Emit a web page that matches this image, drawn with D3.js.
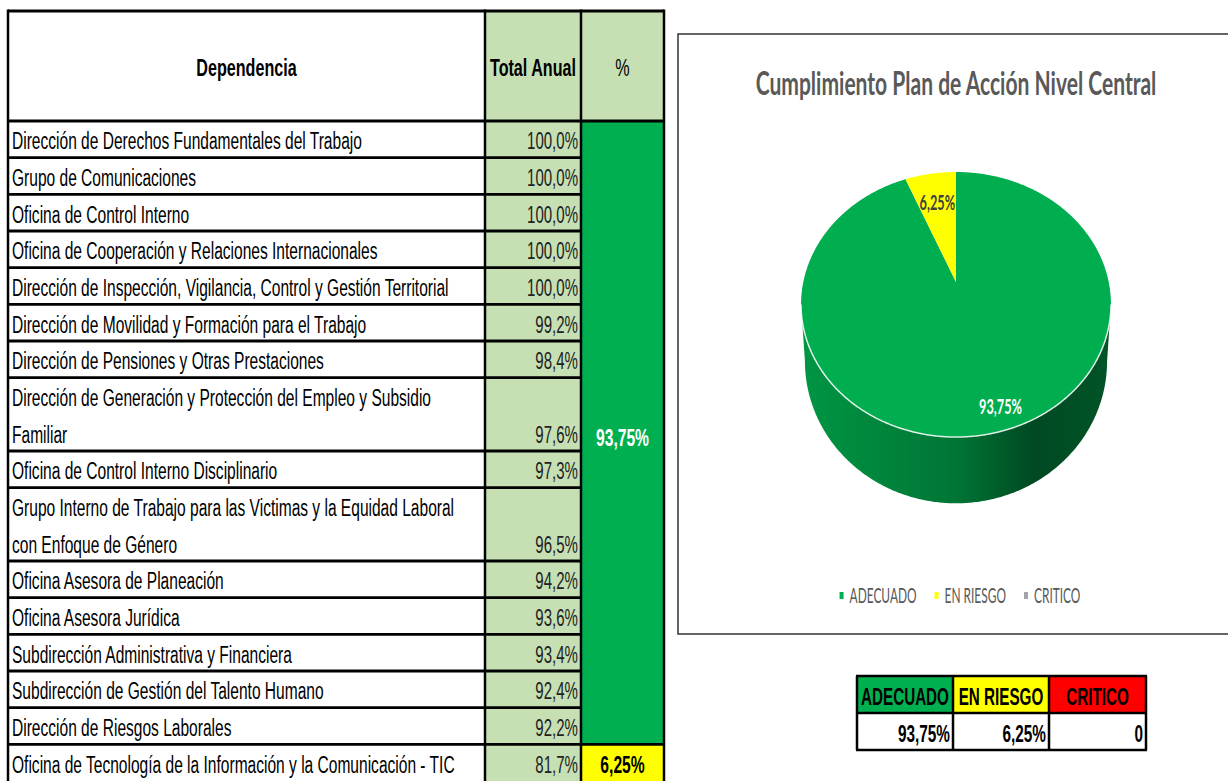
<!DOCTYPE html>
<html>
<head>
<meta charset="utf-8">
<title>Cumplimiento Plan de Acción Nivel Central</title>
<script src="https://d3js.org/d3.v7.min.js"></script>
<style>
  body { margin: 0; background: #fff; }
  svg { display: block; }
  .tabla { font-family: 'Liberation Sans', Arial, sans-serif; }
  .grafico { font-family: Lato, 'Liberation Sans', sans-serif; }
</style>
</head>
<body>
<svg id="chart"></svg>
<script>
// ---- datos ----
var dependencias = [
  "Dirección de Derechos Fundamentales del Trabajo",
  "Grupo de Comunicaciones",
  "Oficina de Control Interno",
  "Oficina de Cooperación y Relaciones Internacionales",
  "Dirección de Inspección, Vigilancia, Control y Gestión Territorial",
  "Dirección de Movilidad y Formación para el Trabajo",
  "Dirección de Pensiones y Otras Prestaciones",
  "Dirección de Generación y Protección del Empleo y Subsidio\nFamiliar",
  "Oficina de Control Interno Disciplinario",
  "Grupo Interno de Trabajo para las Victimas y la Equidad Laboral\ncon Enfoque de Género",
  "Oficina Asesora de Planeación",
  "Oficina Asesora Jurídica",
  "Subdirección Administrativa y Financiera",
  "Subdirección de Gestión del Talento Humano",
  "Dirección de Riesgos Laborales",
  "Oficina de Tecnología de la Información y la Comunicación - TIC"
];
var totalAnual = [100.0, 100.0, 100.0, 100.0, 100.0, 99.2, 98.4, 97.6, 97.3, 96.5, 94.2, 93.6, 93.4, 92.4, 92.2, 81.7];
var encabezados = ["Dependencia", "Total Anual", "%"];

var categorias = ["ADECUADO", "EN RIESGO", "CRITICO"];
var porcentajes = [93.75, 6.25, 0];
var filasPorEstado = [15, 1, 0];

var titulo = "Cumplimiento Plan de Acción Nivel Central";

// colores
var coloresTabla = ["#00B050", "#FFFF00", "#FF0000"];
var coloresPie = ["#00AD4F", "#FFFF00", "#A5A5A5"];
var verdeClaro = "#C6E0B4";

var es = d3.formatLocale({decimal: ",", thousands: ".", grouping: [3], currency: ["$", ""]});
var f1 = es.format(".1f"), f2 = es.format(".2f");
function pct1(v) { return f1(v) + "%"; }
function pct2(v) { return v === 0 ? "0" : f2(v) + "%"; }

var W = 1228, H = 782;
var svg = d3.select("#chart").attr("width", W).attr("height", H);

// comprime horizontalmente un grupo de textos (fuente estrecha)
function comprimir(sel, refTexto, ancho) {
  var n = sel.node();
  if (!n) return 1;
  var tmp = d3.select(n.parentNode).append("text")
    .attr("class", n.getAttribute("class"))
    .attr("font-size", n.getAttribute("font-size"))
    .attr("font-weight", n.getAttribute("font-weight"))
    .text(refTexto);
  var k = ancho / tmp.node().getComputedTextLength();
  tmp.remove();
  sel.each(function() {
    var x = +this.getAttribute("x");
    d3.select(this).attr("transform", "translate(" + x + ",0) scale(" + k + ",1) translate(" + (-x) + ",0)");
  });
  return k;
}

// ---- tabla principal ----
var lineas = dependencias.map(function(d) { return d.split("\n"); });
var inicio = [], acc = 0;
lineas.forEach(function(l) { inicio.push(acc); acc += l.length; });
var totalLineas = acc;

var y = d3.scaleLinear().domain([-3, totalLineas]).range([11, 781]);
var colX = [8, 485, 581, 664];

var tabla = svg.append("g").attr("class", "tabla");

// fondos de encabezado
tabla.selectAll("rect.enc").data(encabezados).enter().append("rect")
  .attr("x", function(d, i) { return colX[i]; })
  .attr("y", y(-3))
  .attr("width", function(d, i) { return colX[i + 1] - colX[i]; })
  .attr("height", y(0) - y(-3))
  .attr("fill", function(d, i) { return i === 0 ? "#fff" : verdeClaro; });

// columna total anual
tabla.append("rect")
  .attr("x", colX[1]).attr("y", y(0))
  .attr("width", colX[2] - colX[1]).attr("height", y(totalLineas) - y(0))
  .attr("fill", verdeClaro);

// columna % combinada por estado
var limites = [];
var fila = 0;
filasPorEstado.forEach(function(c, i) {
  if (c > 0) {
    var y0 = inicio[fila];
    var fin = fila + c - 1;
    var y1 = inicio[fin] + lineas[fin].length;
    limites.push({estado: i, y0: y0, y1: y1});
  }
  fila += c;
});

tabla.selectAll("rect.estado").data(limites).enter().append("rect")
  .attr("x", colX[2]).attr("y", function(d) { return y(d.y0); })
  .attr("width", colX[3] - colX[2])
  .attr("height", function(d) { return y(d.y1) - y(d.y0); })
  .attr("fill", function(d) { return coloresTabla[d.estado]; });

// lineas horizontales
var lineasH = [-3].concat(inicio);
tabla.selectAll("line.h").data(lineasH).enter().append("line")
  .attr("x1", colX[0]).attr("x2", colX[2])
  .attr("y1", function(d) { return y(d); }).attr("y2", function(d) { return y(d); })
  .attr("stroke", "#000").attr("stroke-width", 2.8);
tabla.selectAll("line.hp").data([-3].concat(limites.map(function(d) { return d.y0; }))).enter().append("line")
  .attr("x1", colX[2]).attr("x2", colX[3])
  .attr("y1", function(d) { return y(d); }).attr("y2", function(d) { return y(d); })
  .attr("stroke", "#000").attr("stroke-width", 2.8);
// lineas verticales
tabla.selectAll("line.v").data(colX).enter().append("line")
  .attr("x1", function(d) { return d; }).attr("x2", function(d) { return d; })
  .attr("y1", y(-3) - 1.4).attr("y2", y(totalLineas))
  .attr("stroke", "#000").attr("stroke-width", 2.5);

// textos de encabezado
var encTxt = tabla.selectAll("text.enc").data(encabezados).enter().append("text")
  .attr("class", "tabla")
  .attr("x", function(d, i) { return (colX[i] + colX[i + 1]) / 2; })
  .attr("y", (y(-3) + y(0)) / 2 + 10)
  .attr("text-anchor", "middle")
  .attr("font-size", 24)
  .attr("font-weight", function(d, i) { return i < 2 ? "bold" : "normal"; })
  .attr("fill", "#000")
  .text(function(d) { return d; });
comprimir(encTxt, "Total Anual", 86);

// nombres de dependencias
var nombres = [];
lineas.forEach(function(l, i) {
  l.forEach(function(t, j) { nombres.push({t: t, pos: inicio[i] + j}); });
});
var nomTxt = tabla.selectAll("text.nom").data(nombres).enter().append("text")
  .attr("class", "tabla")
  .attr("x", colX[0] + 4)
  .attr("y", function(d) { return y(d.pos + 0.5) + 10; })
  .attr("font-size", 23)
  .attr("font-weight", "normal")
  .attr("fill", "#000")
  .text(function(d) { return d.t; });
comprimir(nomTxt, dependencias[0], 350);

// valores total anual
var valTxt = tabla.selectAll("text.val").data(totalAnual).enter().append("text")
  .attr("class", "tabla")
  .attr("x", colX[2] - 3)
  .attr("y", function(d, i) { return y(inicio[i] + lineas[i].length - 0.5) + 10; })
  .attr("text-anchor", "end")
  .attr("font-size", 23)
  .attr("font-weight", "normal")
  .attr("fill", "#222")
  .text(function(d) { return pct1(d); });
comprimir(valTxt, "100,0%", 51);

// porcentaje por estado
var estTxt = tabla.selectAll("text.est").data(limites).enter().append("text")
  .attr("class", "tabla")
  .attr("x", (colX[2] + colX[3]) / 2)
  .attr("y", function(d) { return (y(d.y0) + y(d.y1)) / 2 + (d.estado === 0 ? 13 : 10); })
  .attr("text-anchor", "middle")
  .attr("font-size", 23)
  .attr("font-weight", "bold")
  .attr("fill", function(d) { return d.estado === 0 ? "#fff" : "#000"; })
  .text(function(d) { return pct2(porcentajes[d.estado]); });
comprimir(estTxt, "93,75%", 53);

// ---- grafico de torta 3D ----
var g = svg.append("g").attr("class", "grafico");
g.append("rect")
  .attr("x", 678).attr("y", 34).attr("width", 700).attr("height", 600)
  .attr("fill", "#fff").attr("stroke", "#333").attr("stroke-width", 1.5);

var tit = g.append("text")
  .attr("class", "grafico")
  .attr("x", 956).attr("y", 95)
  .attr("text-anchor", "middle")
  .attr("font-size", 33).attr("font-weight", "bold")
  .attr("fill", "#595959")
  .text(titulo);
comprimir(tit, titulo, 401);

var pieCx = 956, pieCy = 282, pieE = 0.17, pieA = 128.7, pieB = 152.7, pieH = 55;
function proyectar(a, r, abajo) {
  var u = r * Math.sin(a), v = -r * Math.cos(a);
  var den = 1 - pieE * v;
  var b = abajo ? pieB * 0.975 : pieB;
  return [pieCx + b * u / den, pieCy + pieA * v / den + (abajo ? pieH / den : 0)];
}
function muestras(a0, a1) {
  var n = Math.max(2, Math.ceil((a1 - a0) / 0.01));
  return d3.range(n + 1).map(function(i) { return a0 + (a1 - a0) * i / n; });
}
var linea = d3.line();

var arcos = d3.pie().sort(null).value(function(d) { return d; })(porcentajes)
  .map(function(d, i) { d.i = i; return d; })
  .filter(function(d) { return d.endAngle - d.startAngle > 0; });

// degradados para los lados
var defs = svg.append("defs");
arcos.forEach(function(d) {
  var base = d3.color(coloresPie[d.i]);
  var gr = defs.append("linearGradient").attr("id", "lado" + d.i)
    .attr("gradientUnits", "userSpaceOnUse")
    .attr("x1", pieCx - pieB * 1.02).attr("x2", pieCx + pieB * 1.02)
    .attr("y1", 0).attr("y2", 0);
  [[0, 0.4], [0.5, 1.1], [0.75, 2.4], [1, 2.0]].forEach(function(s) {
    gr.append("stop").attr("offset", s[0]).attr("stop-color", base.darker(s[1]).formatHex());
  });
});

var frente0 = Math.acos(-pieE), frente1 = 2 * Math.PI - frente0;

// lados visibles
arcos.forEach(function(d) {
  var a0 = Math.max(d.startAngle, frente0), a1 = Math.min(d.endAngle, frente1);
  if (a1 <= a0) return;
  var arriba = muestras(a0, a1).map(function(a) { return proyectar(a, 1, false); });
  var abajo = muestras(a0, a1).reverse().map(function(a) { return proyectar(a, 1, true); });
  g.append("path")
    .attr("d", linea(arriba.concat(abajo)) + "Z")
    .attr("fill", "url(#lado" + d.i + ")");
});

// caras superiores
g.selectAll("path.cara").data(arcos).enter().append("path")
  .attr("d", function(d) {
    var pts = [proyectar(0, 0, false)].concat(muestras(d.startAngle, d.endAngle).map(function(a) { return proyectar(a, 1, false); }));
    return linea(pts) + "Z";
  })
  .attr("fill", function(d) { return coloresPie[d.i]; });

// brillo del borde frontal
g.append("path")
  .attr("d", linea(muestras(frente0, frente1).map(function(a) { return proyectar(a, 1, false); })))
  .attr("fill", "none").attr("stroke", "#fff").attr("stroke-opacity", 0.85).attr("stroke-width", 1.5);

// etiquetas de la torta
var etiquetaR = [0.85, 0.7, 0.7], etiquetaDx = [15, 0, 0];
var etq = g.selectAll("text.etq").data(arcos).enter().append("text")
  .attr("class", "grafico")
  .attr("x", function(d) { return proyectar((d.startAngle + d.endAngle) / 2, etiquetaR[d.i], false)[0] + etiquetaDx[d.i]; })
  .attr("y", function(d) { return proyectar((d.startAngle + d.endAngle) / 2, etiquetaR[d.i], false)[1] + 7; })
  .attr("text-anchor", "middle")
  .attr("font-size", 20).attr("font-weight", "bold")
  .attr("fill", function(d) { return d.i === 0 ? "#fff" : "#404040"; })
  .text(function(d) { return pct2(porcentajes[d.i]); });
comprimir(etq, "93,75%", 43);

// leyenda
var ley = g.append("g");
var leyTxt = ley.selectAll("text").data(categorias).enter().append("text")
  .attr("class", "grafico")
  .attr("x", 0)
  .attr("y", 603)
  .attr("font-size", 21).attr("font-weight", "normal")
  .attr("fill", "#595959")
  .text(function(d) { return d; });
var anchos = [];
leyTxt.each(function() { anchos.push(this.getComputedTextLength()); });
var kLey = comprimir(leyTxt, "ADECUADO", 67);
anchos = anchos.map(function(w) { return w * kLey; });
var marca = 4, sepMarca = 6, sepItem = 18;
var totalLey = d3.sum(anchos) + categorias.length * (marca + sepMarca) + (categorias.length - 1) * sepItem;
var xl = 960 - totalLey / 2, xs = [];
anchos.forEach(function(w) { xs.push(xl); xl += marca + sepMarca + w + sepItem; });
leyTxt.attr("x", function(d, i) { return xs[i] + marca + sepMarca; });
comprimir(leyTxt, "ADECUADO", 67);
ley.selectAll("rect").data(categorias).enter().append("rect")
  .attr("x", function(d, i) { return xs[i]; })
  .attr("y", 592).attr("width", marca).attr("height", 7)
  .attr("fill", function(d, i) { return coloresPie[i]; });

// ---- tabla resumen ----
var rx = [857, 953, 1049, 1146], ry = [676, 713, 750];
var res = svg.append("g").attr("class", "tabla");
res.selectAll("rect.enc").data(categorias).enter().append("rect")
  .attr("x", function(d, i) { return rx[i]; }).attr("y", ry[0])
  .attr("width", function(d, i) { return rx[i + 1] - rx[i]; }).attr("height", ry[1] - ry[0])
  .attr("fill", function(d, i) { return coloresTabla[i]; });
res.selectAll("line.h").data(ry).enter().append("line")
  .attr("x1", rx[0] - 1).attr("x2", rx[3] + 1)
  .attr("y1", function(d) { return d; }).attr("y2", function(d) { return d; })
  .attr("stroke", "#000").attr("stroke-width", 2.5);
res.selectAll("line.v").data(rx).enter().append("line")
  .attr("x1", function(d) { return d; }).attr("x2", function(d) { return d; })
  .attr("y1", ry[0]).attr("y2", ry[2])
  .attr("stroke", "#000").attr("stroke-width", 2.5);
var resEnc = res.selectAll("text.enc").data(categorias).enter().append("text")
  .attr("class", "tabla")
  .attr("x", function(d, i) { return (rx[i] + rx[i + 1]) / 2; })
  .attr("y", ry[1] - 8)
  .attr("text-anchor", "middle")
  .attr("font-size", 24).attr("font-weight", "bold").attr("fill", "#000")
  .text(function(d) { return d; });
comprimir(resEnc, "ADECUADO", 88);
var resVal = res.selectAll("text.val").data(porcentajes).enter().append("text")
  .attr("class", "tabla")
  .attr("x", function(d, i) { return rx[i + 1] - 3; })
  .attr("y", ry[2] - 8)
  .attr("text-anchor", "end")
  .attr("font-size", 24).attr("font-weight", "bold").attr("fill", "#000")
  .text(function(d) { return pct2(d); });
comprimir(resVal, "93,75%", 52);
</script>
</body>
</html>
